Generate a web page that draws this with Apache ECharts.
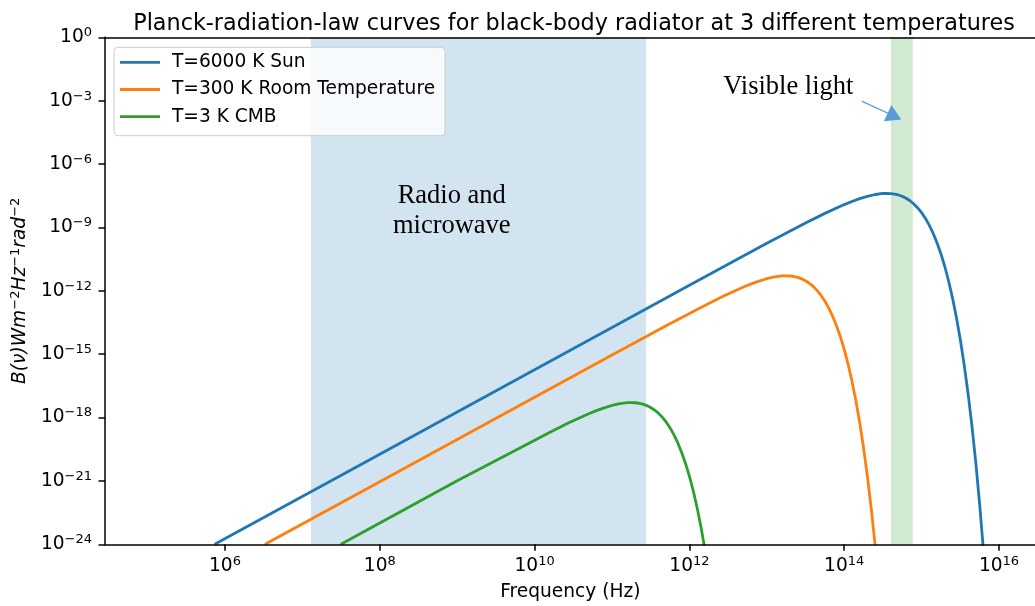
<!DOCTYPE html>
<html>
<head>
<meta charset="utf-8">
<script src="https://cdn.jsdelivr.net/npm/echarts@6/dist/echarts.min.js"></script>
<style>
  html, body { margin: 0; padding: 0; background: #ffffff; }
  #chart { width: 1035px; height: 606px; }
</style>
</head>
<body>
<div id="chart"></div>
<script>
// Spectral radiance curves, stored as base-10 exponents: log10(frequency / Hz), log10(B)
const seriesNames = ['T=6000 K Sun', 'T=300 K Room Temperature', 'T=3 K CMB'];

const sunLogNu = [5.867, 8, 10, 11, 12, 13, 13.5, 13.75, 14, 14.1, 14.2, 14.3, 14.4, 14.5, 14.55, 14.6, 14.65, 14.7, 14.75, 14.8, 14.85, 14.9, 14.95, 15.0, 15.05, 15.1, 15.15, 15.2, 15.25, 15.3, 15.35, 15.4, 15.45, 15.5, 15.55, 15.6, 15.65, 15.7, 15.75, 15.8];
const sunLogB = [-24.0, -19.734, -15.734, -13.734, -11.736, -9.751, -8.790, -8.335, -7.919, -7.771, -7.638, -7.526, -7.441, -7.393, -7.387, -7.396, -7.420, -7.464, -7.530, -7.620, -7.738, -7.890, -8.077, -8.305, -8.579, -8.904, -9.288, -9.736, -10.258, -10.861, -11.558, -12.356, -13.270, -14.315, -15.506, -16.859, -18.398, -20.139, -22.116, -24.35];

const roomLogNu = [6.518, 8, 10, 11, 11.699, 12.199, 12.449, 12.699, 12.799, 12.899, 12.999, 13.099, 13.199, 13.249, 13.299, 13.349, 13.399, 13.449, 13.499, 13.549, 13.599, 13.649, 13.699, 13.749, 13.799, 13.849, 13.899, 13.949, 13.999, 14.049, 14.099, 14.149, 14.199, 14.249, 14.299, 14.349, 14.399];
const roomLogB = [-24.0, -21.035, -17.035, -15.035, -13.654, -12.693, -12.238, -11.822, -11.674, -11.541, -11.429, -11.344, -11.296, -11.290, -11.299, -11.323, -11.367, -11.433, -11.523, -11.641, -11.793, -11.980, -12.208, -12.482, -12.807, -13.191, -13.639, -14.161, -14.764, -15.461, -16.259, -17.173, -18.218, -19.409, -20.762, -22.301, -24.042];

const cmbLogNu = [7.498, 8, 9, 9.699, 10.199, 10.449, 10.699, 10.799, 10.899, 10.999, 11.099, 11.199, 11.249, 11.299, 11.349, 11.399, 11.449, 11.499, 11.549, 11.599, 11.649, 11.699, 11.749, 11.799, 11.849, 11.899, 11.949, 11.999, 12.049, 12.099, 12.149, 12.199];
const cmbLogB = [-24.0, -22.995, -20.995, -19.654, -18.693, -18.238, -17.822, -17.674, -17.541, -17.429, -17.344, -17.296, -17.290, -17.299, -17.323, -17.367, -17.433, -17.523, -17.641, -17.793, -17.980, -18.208, -18.482, -18.807, -19.191, -19.639, -20.161, -20.764, -21.461, -22.259, -23.173, -24.218];

// Axis ranges and tick exponents
const xRange = [4.45, 16.55];
const yRange = [-24, 0];
const xTickExponents = [6, 8, 10, 12, 14, 16];
const yTickStep = 3;

// Shaded frequency bands (exponents)
const radioBand = [7.11, 11.44];
const visibleBand = [14.602, 14.886];

// Annotation anchors (exponents)
const radioLabelAt = [8.93, -8.22];
const visibleLabelAt = [13.278, -2.35];
const arrowFrom = [14.226, -3.02];
const arrowTo = [14.649, -3.737];

const FONT = 'DejaVu Sans';
const SERIF = 'Liberation Serif';
const colors = ['#1f77b4', '#ff7f0e', '#2ca02c'];

const zip = (xs, ys) => xs.map((x, i) => [x, ys[i]]);
const minus = s => String(s).replace('-', '\u2212');
const powerLabel = v => '{b|10}{s|' + minus(Math.round(v)) + '}';

const supRich = {
  b: { fontFamily: FONT, fontSize: 18.6, lineHeight: 22, color: '#000' },
  s: { fontFamily: FONT, fontSize: 13, lineHeight: 13, verticalAlign: 'top', color: '#000' }
};

const spine = { color: '#000', width: 1.5 };

const chart = echarts.init(document.getElementById('chart'), null, { renderer: 'canvas' });

const curves = [
  zip(sunLogNu, sunLogB),
  zip(roomLogNu, roomLogB),
  zip(cmbLogNu, cmbLogB)
];

chart.setOption({
  animation: false,
  backgroundColor: '#ffffff',
  title: {
    text: 'Planck-radiation-law curves for black-body radiator at 3 different temperatures',
    left: 569,
    top: 5,
    textAlign: 'center',
    textStyle: { fontFamily: FONT, fontSize: 22.3, fontWeight: 'normal', color: '#000', lineHeight: 28 }
  },
  legend: {
    data: seriesNames,
    orient: 'vertical',
    left: 114,
    top: 47.3,
    padding: [5, 10, 9, 6],
    icon: 'rect',
    itemWidth: 40,
    itemHeight: 2.8,
    itemGap: 7.2,
    backgroundColor: 'rgba(255,255,255,0.8)',
    borderColor: '#cccccc',
    borderWidth: 1,
    borderRadius: 4,
    textStyle: { fontFamily: FONT, fontSize: 18.6, lineHeight: 20, color: '#000', padding: [0, 0, 0, 7] }
  },
  grid: { left: 105, top: 37.3, width: 936.6, bottom: 61.7, containLabel: false, outerBoundsMode: 'none' },
  xAxis: [
    {
      type: 'value',
      min: xRange[0],
      max: xRange[1],
      position: 'bottom',
      z: 5,
      splitLine: { show: false },
      axisLine: { onZero: false, lineStyle: spine },
      axisTick: { customValues: xTickExponents, length: 6.5, lineStyle: spine },
      axisLabel: { customValues: xTickExponents, formatter: powerLabel, margin: 10.7, rich: supRich },
      name: 'Frequency (Hz)',
      nameLocation: 'middle',
      nameGap: 37,
      nameTextStyle: { fontFamily: FONT, fontSize: 18.6, lineHeight: 22, color: '#000', padding: [0, 6, 0, 0] }
    },
    {
      type: 'value',
      min: xRange[0],
      max: xRange[1],
      position: 'top',
      z: 5,
      splitLine: { show: false },
      axisLine: { show: true, onZero: false, lineStyle: spine },
      axisTick: { show: false },
      axisLabel: { show: false }
    }
  ],
  yAxis: {
    type: 'value',
    min: yRange[0],
    max: yRange[1],
    interval: yTickStep,
    z: 5,
    splitLine: { show: false },
    axisLine: { onZero: false, lineStyle: spine },
    axisTick: { length: 6.5, lineStyle: spine },
    axisLabel: { formatter: powerLabel, margin: 13, rich: supRich, align: 'right' },
    name: '{i|B(\u03bd)Wm}{s|\u22122}{i|Hz}{s|\u22121}{i|rad}{s|\u22122}',
    nameLocation: 'middle',
    nameGap: 69,
    nameTextStyle: {
      rich: {
        i: { fontFamily: FONT, fontSize: 18.6, fontStyle: 'italic', lineHeight: 22, color: '#000' },
        s: { fontFamily: FONT, fontSize: 13, lineHeight: 13, verticalAlign: 'top', color: '#000' }
      }
    }
  },
  series: [
    {
      // shaded bands, annotation texts and arrow
      type: 'line',
      data: [],
      z: 1,
      silent: true,
      markArea: {
        silent: true,
        data: [
          [{ xAxis: radioBand[0], itemStyle: { color: 'rgba(31,119,180,0.2)' } }, { xAxis: radioBand[1] }],
          [{ xAxis: visibleBand[0], itemStyle: { color: 'rgba(44,160,44,0.22)' } }, { xAxis: visibleBand[1] }]
        ]
      },
      markPoint: {
        silent: true,
        symbol: 'circle',
        symbolSize: 1,
        itemStyle: { color: 'rgba(0,0,0,0)' },
        data: [
          {
            coord: radioLabelAt,
            label: { show: true, position: 'inside', formatter: 'Radio and\nmicrowave', align: 'center',
              fontFamily: SERIF, fontSize: 26.5, lineHeight: 30, color: '#000' }
          },
          {
            coord: visibleLabelAt,
            label: { show: true, position: 'inside', formatter: 'Visible light', align: 'center',
              fontFamily: SERIF, fontSize: 26.5, lineHeight: 30, color: '#000' }
          }
        ]
      },
      markLine: {
        silent: true,
        symbol: ['none', 'triangle'],
        symbolSize: [18, 15],
        lineStyle: { color: '#5b9bd5', width: 1.2, type: 'solid' },
        label: { show: false },
        emphasis: { disabled: true },
        data: [[{ coord: arrowFrom }, { coord: arrowTo }]]
      }
    }
  ].concat(seriesNames.map((name, i) => ({
    name: name,
    type: 'line',
    data: curves[i],
    z: 3,
    symbol: 'none',
    showSymbol: false,
    clip: true,
    color: colors[i],
    lineStyle: { color: colors[i], width: 2.8 },
    emphasis: { disabled: true }
  })))
});
</script>
</body>
</html>
